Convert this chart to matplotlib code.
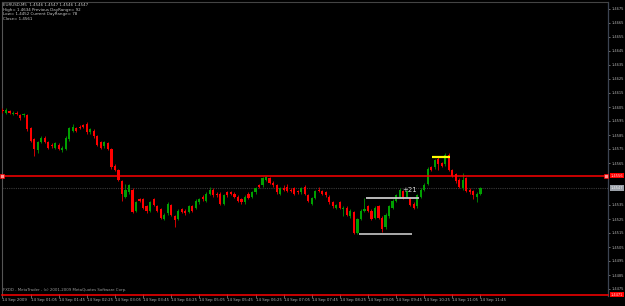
import matplotlib
matplotlib.use("Agg")
import matplotlib.pyplot as plt
import matplotlib.transforms as mtransforms

# ---- data (EURUSD M5, 14 Sep 2009) ----
opens = [1.4603,1.4601,1.4602,1.4600,1.4601,1.4599,1.4599,1.4599,1.4590,1.4582,
         1.4574,1.4580,1.4583,1.4580,1.4578,1.4576,1.4578,1.4574,1.4575,1.4582,
         1.4588,1.4590,1.4591,1.4592,1.4593,1.4587,1.4588,1.4584,1.4580,1.4577,
         1.4579,1.4575,1.4563,1.4560,1.4552,1.4541,1.4544,1.4546,1.4531,1.4539,
         1.4539,1.4534,1.4531,1.4539,1.4534,1.4532,1.4525,1.4529,1.4535,1.4527,
         1.4525,1.4532,1.4531,1.4530,1.4534,1.4533,1.4537,1.4541,1.4538,1.4543,
         1.4546,1.4543,1.4543,1.4536,1.4544,1.4544,1.4543,1.4541,1.4539,1.4537,
         1.4543,1.4541,1.4544,1.4549,1.4549,1.4553,1.4554,1.4551,1.4549,1.4543,
         1.4547,1.4548,1.4546,1.4547,1.4545,1.4544,1.4548,1.4542,1.4536,1.4540,
         1.4546,1.4545,1.4544,1.4541,1.4537,1.4533,1.4537,1.4532,1.4533,1.4527,
         1.4530,1.4515,1.4525,1.4531,1.4534,1.4531,1.4526,1.4534,1.4526,1.4519,
         1.4527,1.4533,1.4538,1.4541,1.4545,1.4541,1.4540,1.4536,1.4534,1.4541,
         1.4546,1.4550,1.4562,1.4562,1.4568,1.4565,1.4564,1.4571,1.4560,1.4557,
         1.4553,1.4547,1.4554,1.4546,1.4545,1.4541,1.4543]
highs = [1.4604,1.4604,1.4603,1.4602,1.4602,1.4600,1.4601,1.4600,1.4591,1.4583,
         1.4581,1.4584,1.4584,1.4581,1.4579,1.4580,1.4579,1.4577,1.4584,1.4591,
         1.4593,1.4591,1.4592,1.4593,1.4594,1.4590,1.4589,1.4585,1.4581,1.4581,
         1.4580,1.4576,1.4564,1.4561,1.4553,1.4550,1.4550,1.4547,1.4538,1.4540,
         1.4540,1.4535,1.4538,1.4540,1.4535,1.4533,1.4529,1.4537,1.4536,1.4528,
         1.4532,1.4533,1.4532,1.4535,1.4535,1.4539,1.4540,1.4542,1.4544,1.4548,
         1.4547,1.4544,1.4544,1.4543,1.4545,1.4545,1.4544,1.4542,1.4540,1.4542,
         1.4544,1.4545,1.4548,1.4550,1.4555,1.4556,1.4555,1.4552,1.4550,1.4548,
         1.4549,1.4550,1.4547,1.4548,1.4546,1.4548,1.4549,1.4543,1.4541,1.4546,
         1.4548,1.4546,1.4545,1.4542,1.4538,1.4536,1.4538,1.4534,1.4534,1.4532,
         1.4531,1.4526,1.4532,1.4540,1.4535,1.4532,1.4534,1.4535,1.4527,1.4529,
         1.4535,1.4539,1.4543,1.4547,1.4546,1.4546,1.4541,1.4537,1.4543,1.4547,
         1.4551,1.4562,1.4563,1.4568,1.4569,1.4566,1.4572,1.4572,1.4561,1.4558,
         1.4554,1.4558,1.4555,1.4547,1.4546,1.4544,1.4548]
lows =  [1.4601,1.4600,1.4600,1.4599,1.4599,1.4596,1.4598,1.4588,1.4580,1.4570,
         1.4572,1.4579,1.4579,1.4575,1.4576,1.4575,1.4574,1.4573,1.4574,1.4581,
         1.4587,1.4587,1.4589,1.4590,1.4586,1.4586,1.4583,1.4577,1.4575,1.4576,
         1.4574,1.4561,1.4559,1.4552,1.4538,1.4540,1.4543,1.4529,1.4530,1.4537,
         1.4532,1.4529,1.4530,1.4534,1.4530,1.4525,1.4524,1.4528,1.4527,1.4519,
         1.4524,1.4529,1.4528,1.4529,1.4530,1.4532,1.4536,1.4538,1.4537,1.4542,
         1.4541,1.4541,1.4535,1.4535,1.4541,1.4542,1.4540,1.4537,1.4536,1.4536,
         1.4539,1.4540,1.4543,1.4547,1.4548,1.4552,1.4550,1.4548,1.4543,1.4542,
         1.4545,1.4544,1.4544,1.4542,1.4543,1.4543,1.4542,1.4537,1.4535,1.4539,
         1.4544,1.4542,1.4541,1.4536,1.4533,1.4532,1.4532,1.4527,1.4527,1.4526,
         1.4514,1.4514,1.4524,1.4530,1.4530,1.4524,1.4525,1.4525,1.4516,1.4518,
         1.4526,1.4532,1.4537,1.4540,1.4539,1.4540,1.4534,1.4532,1.4533,1.4540,
         1.4545,1.4549,1.4559,1.4561,1.4560,1.4562,1.4563,1.4559,1.4555,1.4551,
         1.4547,1.4546,1.4544,1.4543,1.4539,1.4537,1.4542]
closes = [1.4602,1.4603,1.4601,1.4601,1.4600,1.4597,1.4600,1.4589,1.4581,1.4575,
          1.4580,1.4583,1.4580,1.4576,1.4577,1.4579,1.4575,1.4576,1.4583,1.4590,
          1.4591,1.4588,1.4590,1.4591,1.4587,1.4589,1.4584,1.4578,1.4576,1.4580,
          1.4575,1.4562,1.4560,1.4553,1.4543,1.4546,1.4549,1.4530,1.4537,1.4538,
          1.4533,1.4531,1.4537,1.4535,1.4531,1.4526,1.4528,1.4536,1.4528,1.4524,
          1.4531,1.4530,1.4529,1.4534,1.4531,1.4538,1.4539,1.4539,1.4543,1.4546,
          1.4542,1.4542,1.4536,1.4542,1.4542,1.4543,1.4541,1.4538,1.4537,1.4541,
          1.4540,1.4544,1.4547,1.4548,1.4554,1.4555,1.4551,1.4549,1.4544,1.4547,
          1.4546,1.4545,1.4545,1.4543,1.4544,1.4547,1.4543,1.4538,1.4540,1.4545,
          1.4545,1.4543,1.4542,1.4537,1.4534,1.4535,1.4533,1.4533,1.4528,1.4531,
          1.4515,1.4525,1.4531,1.4532,1.4531,1.4525,1.4533,1.4526,1.4518,1.4528,
          1.4534,1.4538,1.4542,1.4546,1.4540,1.4545,1.4535,1.4533,1.4542,1.4546,
          1.4549,1.4561,1.4560,1.4567,1.4564,1.4563,1.4571,1.4560,1.4556,1.4552,
          1.4548,1.4553,1.4545,1.4544,1.4542,1.4543,1.4547]

time_labels = ["14 Sep 2009", "14 Sep 01:05", "14 Sep 01:45", "14 Sep 02:25",
               "14 Sep 03:05", "14 Sep 03:45", "14 Sep 04:25", "14 Sep 05:05",
               "14 Sep 05:45", "14 Sep 06:25", "14 Sep 07:05", "14 Sep 07:45",
               "14 Sep 08:25", "14 Sep 09:05", "14 Sep 09:45", "14 Sep 10:25",
               "14 Sep 11:05", "14 Sep 11:45"]
time_label_bars = [0, 8, 16, 24, 32, 40, 48, 56, 64, 72, 80, 88, 96, 104, 112, 120, 128, 136]

price_ticks = [1.4675, 1.4665, 1.4655, 1.4645, 1.4635, 1.4625, 1.4615, 1.4605,
               1.4595, 1.4585, 1.4575, 1.4565, 1.4535, 1.4525, 1.4515,
               1.4505, 1.4495, 1.4485, 1.4475]

red_level = 1.4556
bottom_level = 1.4471
last_close = 1.4547

upper_line = (103.4, 118.4, 1.4540)   # start bar, end bar, price
lower_line = (101.4, 116.4, 1.4514)
yellow_line = (122.3, 127.4, 1.4569)
range_text = "+21"
range_text_pos = (115.9, 1.45457)

header_lines = ["EURUSD,M5  1.4546 1.4547 1.4546 1.4547",
                "High= 1.4634 Previous DayRange= 92",
                "Low= 1.4452 Current DayRange= 78",
                "Close= 1.4561"]
footer_text = "FXDD - MetaTrader - (c) 2001-2009 MetaQuotes Software Corp."

# ---- figure ----
W, H = 625, 306
fig = plt.figure(figsize=(W / 100, H / 100), dpi=100, facecolor="black")
ax = fig.add_axes([2 / W, 10 / H, 606 / W, 294 / H], facecolor="black")
ax.set_ylim(1.4470, 1.4680)
ax.set_xlim(-0.14, 172.3)

GREEN = "#00a000"
RED = "#ff0000"
xs = list(range(len(opens)))
cols = [GREEN if c >= o else RED for o, c in zip(opens, closes)]
wick_cols = ["#008000" if c >= o else "#d00000" for o, c in zip(opens, closes)]
ax.vlines(xs, lows, highs, colors=wick_cols, linewidth=0.7, zorder=3)
bottoms = [min(o, c) for o, c in zip(opens, closes)]
heights = [max(abs(c - o), 0.00005) for o, c in zip(opens, closes)]
ax.bar(xs, heights, bottom=bottoms, width=0.62, color=cols, linewidth=0, zorder=4)

# levels
ax.axhline(red_level, color=RED, linewidth=1.1, zorder=5)
ax.axhline(bottom_level, color=RED, linewidth=1.1, zorder=5, clip_on=False)
ax.axhline(last_close, color="#3a3a3a", linewidth=0.8, linestyle=(0, (1, 1)), zorder=1)
ax.plot([0.0, 171.8], [red_level, red_level], linestyle="none", marker="s",
        markersize=2.2, mfc="#ff9090", mec=RED, mew=0.5, zorder=6, clip_on=False)

ax.hlines(upper_line[2], upper_line[0], upper_line[1], color="#c8c8c8", linewidth=1.3, zorder=6)
ax.hlines(lower_line[2], lower_line[0], lower_line[1], color="#b8b8b8", linewidth=1.3, zorder=6)
ax.hlines(yellow_line[2], yellow_line[0], yellow_line[1], color="#ffff00", linewidth=1.6, zorder=6)
ax.text(range_text_pos[0], range_text_pos[1], range_text, color="#d8d8d8", fontsize=5,
        ha="center", va="center", zorder=7)

# axes styling
ax.spines["left"].set_color("#555555")
ax.spines["left"].set_linewidth(0.8)
ax.spines["bottom"].set_visible(False)
ax.spines["top"].set_color("#444444")
ax.spines["top"].set_linestyle((0, (1, 1)))
ax.spines["top"].set_linewidth(0.8)
ax.spines["right"].set_color("#3c4452")
ax.spines["right"].set_linewidth(0.9)

ax.yaxis.tick_right()
ax.set_yticks(price_ticks)
ax.set_yticklabels([f"{v:.4f}" for v in price_ticks])
ax.tick_params(axis="y", colors="#9a9a9a", labelcolor="#b0b0b0", labelsize=2.6,
               length=1.5, width=0.5, pad=0.8)

ax.set_xticks(time_label_bars)
ax.set_xticklabels(time_labels, ha="left")
ax.tick_params(axis="x", colors="#8a8a8a", labelcolor="#b0b0b0", labelsize=2.8,
               length=2.5, width=0.5, pad=0.3, direction="inout")

# price label boxes on right axis
blend = mtransforms.blended_transform_factory(ax.transAxes, ax.transData)
for val, fc, tc in [(red_level, "#ff0000", "#ffd0d0"),
                    (last_close, "#9aa0a8", "#f0f0f0"),
                    (bottom_level, "#ff0000", "#ffd0d0")]:
    ax.text(1.0045, val, f"{val:.4f}", transform=blend, fontsize=2.6, color=tc,
            ha="left", va="center", clip_on=False, zorder=8,
            bbox=dict(boxstyle="square,pad=0.2", fc=fc, ec="none"))

# header / footer texts
for k, line in enumerate(header_lines):
    fig.text(3 / W, 1 - (4.5 + 5 * k) / H, line, color="#c8c8c8", fontsize=2.9,
             ha="left", va="center")
fig.text(3 / W, 1 - 290 / H, footer_text, color="#9a9a9a", fontsize=2.8,
         ha="left", va="center")

fig.savefig("out.png", dpi=100, facecolor="black")
